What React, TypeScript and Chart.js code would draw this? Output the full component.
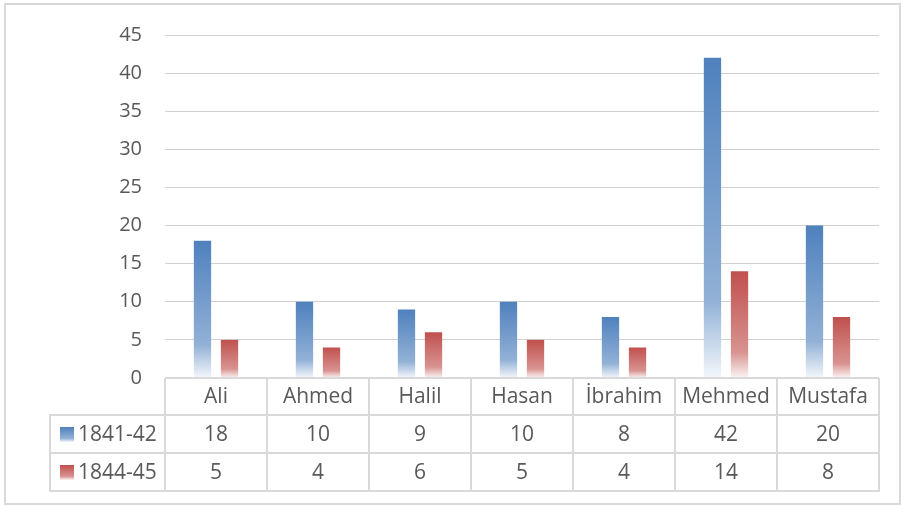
import React, { useEffect, useRef } from "react";
import { Chart, registerables } from "chart.js";

Chart.register(...registerables);

const categories = ["Ali", "Ahmed", "Halil", "Hasan", "İbrahim", "Mehmed", "Mustafa"];
const seriesNames = ["1841-42", "1844-45"];
const series1841 = [18, 10, 9, 10, 8, 42, 20];
const series1844 = [5, 4, 6, 5, 4, 14, 8];
const yTicks = [0, 5, 10, 15, 20, 25, 30, 35, 40, 45];

const FONT = '"Open Sans", "Noto Sans", sans-serif';
const TEXT = "#595959";
const BLUE = [79, 129, 189];
const RED = [192, 80, 77];

function mix(c: number[], t: number) {
  const r = Math.round(c[0] + (255 - c[0]) * t);
  const g = Math.round(c[1] + (255 - c[1]) * t);
  const b = Math.round(c[2] + (255 - c[2]) * t);
  return `rgb(${r},${g},${b})`;
}

function grad(ctx2d: CanvasRenderingContext2D, c: number[], top: number, bottom: number) {
  const g = ctx2d.createLinearGradient(0, top, 0, bottom);
  g.addColorStop(0, mix(c, 0));
  g.addColorStop(0.76, mix(c, 0.38));
  g.addColorStop(1, mix(c, 0.94));
  return g;
}

function barColor(c: number[]) {
  return (ctx: any) => {
    const chart = ctx.chart;
    if (!chart.chartArea || ctx.type !== "data") return mix(c, 0);
    const y = chart.scales.y;
    const top = y.getPixelForValue(ctx.raw);
    const bottom = y.getPixelForValue(0);
    if (!isFinite(top) || !isFinite(bottom) || bottom - top < 1) return mix(c, 0);
    return grad(chart.ctx, c, top, bottom);
  };
}

const tablePlugin = {
  id: "dataTable",
  afterDraw(chart: any) {
    const ctx: CanvasRenderingContext2D = chart.ctx;
    const area = chart.chartArea;
    const xs = chart.scales.x;
    const n = categories.length;
    const cw = (area.right - area.left) / n;
    const top = area.bottom;
    const r1 = top + 37;
    const r2 = r1 + 38;
    const r3 = r2 + 38;
    const legLeft = 50;
    ctx.save();
    ctx.strokeStyle = "#D9D9D9";
    ctx.lineWidth = 2;
    ctx.beginPath();
    ctx.moveTo(area.left, top);
    ctx.lineTo(area.right, top);
    [r1, r2, r3].forEach((yy) => {
      ctx.moveTo(legLeft - 1, yy);
      ctx.lineTo(area.right + 1, yy);
    });
    ctx.moveTo(legLeft, r1);
    ctx.lineTo(legLeft, r3);
    for (let i = 0; i <= n; i++) {
      const xx = area.left + i * cw;
      ctx.moveTo(xx, top);
      ctx.lineTo(xx, r3);
    }
    ctx.stroke();

    ctx.font = `21px ${FONT}`;
    ctx.fillStyle = TEXT;
    ctx.textAlign = "center";
    ctx.textBaseline = "middle";
    const rows = [series1841, series1844];
    categories.forEach((c, i) => {
      const cx = xs.getPixelForValue(i);
      ctx.fillText(c, cx, (top + r1) / 2 + 1);
      ctx.fillText(String(rows[0][i]), cx, (r1 + r2) / 2 + 1);
      ctx.fillText(String(rows[1][i]), cx, (r2 + r3) / 2 + 1);
    });
    const colors = [BLUE, RED];
    [r1, r2].forEach((ry, k) => {
      const cy = ry + 19;
      const mt = cy - 7;
      const mb = cy + 8;
      ctx.fillStyle = grad(ctx, colors[k], mt, mb);
      ctx.fillRect(60, mt, 14, mb - mt);
      ctx.fillStyle = TEXT;
      ctx.textAlign = "left";
      ctx.fillText(seriesNames[k], 78, cy + 1);
    });

    ctx.strokeStyle = "#D9D9D9";
    ctx.lineWidth = 2;
    ctx.strokeRect(5, 4, 895, 500);
    ctx.restore();
  },
};

export default function App() {
  const ref = useRef<HTMLCanvasElement>(null);
  useEffect(() => {
    document.body.style.margin = "0";
    const canvas = ref.current!;
    const chart = new Chart(canvas, {
      type: "bar",
      data: {
        labels: categories,
        datasets: [
          {
            label: seriesNames[0],
            data: series1841,
            backgroundColor: barColor(BLUE) as any,
            categoryPercentage: 0.53,
            barPercentage: 0.64,
          },
          {
            label: seriesNames[1],
            data: series1844,
            backgroundColor: barColor(RED) as any,
            categoryPercentage: 0.53,
            barPercentage: 0.64,
          },
        ],
      },
      options: {
        responsive: false,
        animation: false,
        layout: { padding: { left: 0, right: 22, top: 33, bottom: 128 } },
        plugins: { legend: { display: false }, tooltip: { enabled: false } },
        scales: {
          x: { display: false },
          y: {
            min: 0,
            max: 45,
            afterFit: (s: any) => {
              s.width = 165;
            },
            afterBuildTicks: (s: any) => {
              s.ticks = yTicks.map((v) => ({ value: v }));
            },
            border: { display: false },
            grid: { color: "#D0D0D0", lineWidth: 1, drawTicks: false },
            ticks: {
              color: TEXT,
              font: { family: FONT, size: 20 },
              padding: 23,
            },
          },
        },
      },
      plugins: [tablePlugin],
    });
    return () => chart.destroy();
  }, []);
  return (
    <div style={{ width: 901, height: 506, position: "relative" }}>
      <canvas ref={ref} width={901} height={506} style={{ display: "block" }} />
    </div>
  );
}
